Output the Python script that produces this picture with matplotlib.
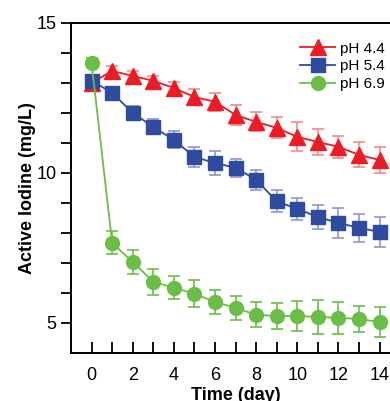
import matplotlib.pyplot as plt

plt.rcParams['font.family'] = ['Liberation Sans', 'DejaVu Sans']

# data
days = list(range(15))
ph44 = [13.0, 13.4, 13.23, 13.07, 12.83, 12.53, 12.37, 11.93, 11.7, 11.5, 11.2, 11.03, 10.87, 10.6, 10.43]
ph44_err = [0.15, 0.15, 0.15, 0.15, 0.2, 0.25, 0.3, 0.32, 0.32, 0.35, 0.48, 0.42, 0.36, 0.42, 0.43]
ph54 = [13.07, 12.67, 12.0, 11.53, 11.1, 10.53, 10.33, 10.17, 9.77, 9.05, 8.8, 8.53, 8.33, 8.17, 8.03]
ph54_err = [0.15, 0.15, 0.22, 0.25, 0.28, 0.32, 0.39, 0.3, 0.34, 0.37, 0.37, 0.39, 0.5, 0.47, 0.5]
ph69 = [13.67, 7.67, 7.03, 6.37, 6.17, 5.97, 5.7, 5.5, 5.27, 5.23, 5.23, 5.2, 5.17, 5.13, 5.03]
ph69_err = [0.15, 0.39, 0.39, 0.43, 0.38, 0.45, 0.4, 0.41, 0.42, 0.43, 0.5, 0.57, 0.53, 0.44, 0.51]

fig = plt.figure(figsize=(3.9, 4.01), dpi=100)
ax = fig.add_axes([0.182, 0.12, 0.844, 0.823])

series = [
    (ph44, ph44_err, '#ED1C24', '#F5898C', '^', 11.5, 'pH 4.4'),
    (ph54, ph54_err, '#2E4C9F', '#8E97D2', 's', 9.5, 'pH 5.4'),
    (ph69, ph69_err, '#6BBE45', '#6BBE45', 'o', 10, 'pH 6.9'),
]
for y, e, c, ec, m, ms, lab in series:
    ax.errorbar(days, y, yerr=e, fmt='none', ecolor=ec, elinewidth=1.2, capsize=4, capthick=1.2, zorder=2)
    ax.plot(days, y, color=c, marker=m, markersize=ms, linewidth=1.3, label=lab, zorder=3)

ax.set_xlim(-1, 15)
ax.set_ylim(4, 15)
ax.set_xticks(range(0, 15, 2))
ax.set_xticks(range(0, 15), minor=True)
ax.set_yticks([5, 10, 15])
ax.set_yticks(range(5, 15), minor=True)
ax.tick_params(axis='x', which='both', direction='in', length=8, width=1.3, labelsize=13, pad=10)
ax.tick_params(axis='y', which='both', direction='out', length=7, width=1.3, labelsize=13)
for s in ax.spines.values():
    s.set_linewidth(1.4)

ax.set_xlabel('Time (day)', fontsize=13, fontweight='bold', labelpad=2)
ax.set_ylabel('Active Iodine (mg/L)', fontsize=13, fontweight='bold', labelpad=0)

ax.legend(loc='upper left', bbox_to_anchor=(0.655, 0.985), frameon=False, fontsize=11,
          handlelength=2.3, handletextpad=0.3, labelspacing=0.25)

fig.savefig('out.png', dpi=100)
